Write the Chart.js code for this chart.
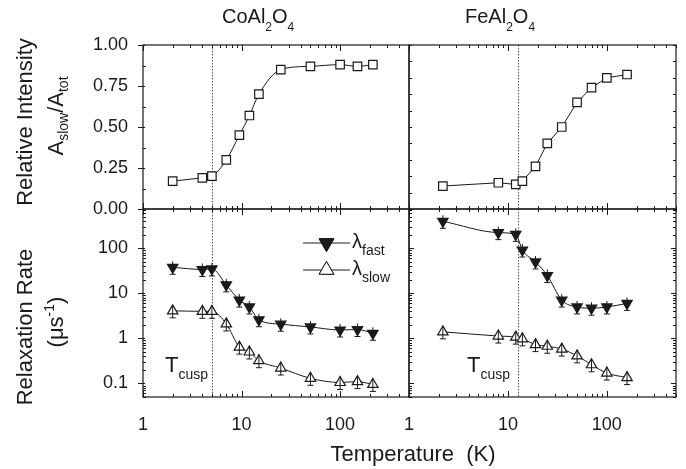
<!DOCTYPE html>
<html>
<head>
<meta charset="utf-8">
<script src="https://cdn.jsdelivr.net/npm/chart.js@4/dist/chart.umd.min.js"></script>
<style>
  body { margin: 0; background: #fff; }
  #wrap { position: relative; width: 686px; height: 469px; overflow: hidden; font-family: "Liberation Sans", Arial, sans-serif; color: #1a1a1a; }
  #wrap canvas { position: absolute; left: 0; top: 0; }
  .t { position: absolute; white-space: pre; line-height: 1; }
  .s { position: relative; }
  .rot { position: absolute; white-space: pre; line-height: 22px; font-size: 22px; transform: translate(-50%, -50%) rotate(-90deg); }
</style>
</head>
<body>
<div id="wrap">
  <canvas id="tl" width="686" height="469"></canvas>
  <canvas id="tr" width="686" height="469"></canvas>
  <canvas id="bl" width="686" height="469"></canvas>
  <canvas id="br" width="686" height="469"></canvas>

  <div class="t" style="left:222px;top:6px;font-size:20px">CoAl<span class="s" style="font-size:12px;top:8px">2</span>O<span class="s" style="font-size:12px;top:8px">4</span></div>
  <div class="t" style="left:465px;top:6px;font-size:20px">FeAl<span class="s" style="font-size:12px;top:8px">2</span>O<span class="s" style="font-size:12px;top:8px">4</span></div>

  <div class="rot" style="left:25px;top:122px">Relative Intensity</div>
  <div class="rot" style="left:57px;top:116px">A<span class="s" style="font-size:14px;top:5px">slow</span>/A<span class="s" style="font-size:14px;top:5px">tot</span></div>
  <div class="rot" style="left:25px;top:327px">Relaxation Rate</div>
  <div class="rot" style="left:57px;top:322px">(μs<span class="s" style="font-size:14px;top:-9px">-1</span>)</div>

  <div class="t" style="left:413px;top:443px;font-size:22px;transform:translateX(-50%)">Temperature  (K)</div>

  <div class="t" style="left:165px;top:354px;font-size:22px">T<span class="s" style="font-size:14px;top:7px">cusp</span></div>
  <div class="t" style="left:467px;top:354px;font-size:22px">T<span class="s" style="font-size:14px;top:7px">cusp</span></div>

  <div class="t" style="left:352px;top:231px;font-size:20px">λ<span class="s" style="font-size:14px;top:7px">fast</span></div>
  <div class="t" style="left:352px;top:258px;font-size:20px">λ<span class="s" style="font-size:14px;top:7px">slow</span></div>
</div>

<script>
// temperatures (K)
const coTemps = [2, 4, 5, 7, 9.5, 12, 15, 25, 50, 100, 150, 215];
const feTemps = [2.2, 8, 12, 14, 19, 25, 35, 50, 70, 100, 160];

// relative intensity A_slow/A_tot
const coRatio = [0.17, 0.19, 0.20, 0.30, 0.45, 0.57, 0.70, 0.85, 0.87, 0.88, 0.87, 0.88];
const feRatio = [0.14, 0.16, 0.15, 0.17, 0.26, 0.40, 0.50, 0.65, 0.74, 0.80, 0.82];

// relaxation rates (1/us)
const coFast = [38, 34, 35, 15.5, 7.1, 5.0, 2.6, 2.07, 1.8, 1.54, 1.58, 1.3];
const coSlow = [4.1, 4.0, 4.0, 2.1, 0.64, 0.5, 0.32, 0.22, 0.13, 0.105, 0.11, 0.095];
const feFast = [400, 224, 205, 92, 50, 25, 7.1, 5.0, 4.7, 5.0, 6.0];
const feSlow = [1.4, 1.13, 1.07, 0.98, 0.73, 0.67, 0.58, 0.41, 0.26, 0.17, 0.135];

const xTicks = [1, 10, 100];
const ratioTicks = [0, 0.25, 0.5, 0.75, 1];
const rateTicks = [0.1, 1, 10, 100];
const tCusp = { co: 5, fe: 12.5 };

const INK = '#1a1a1a';
const tickFont = { family: '"Liberation Sans", Arial, sans-serif', size: 18 };

const pts = (xs, ys) => xs.map((x, i) => ({ x: x, y: ys[i] }));

// frame, inward ticks, Tcusp line, error bars, legend symbols
const panelPlugin = {
    id: 'panel',
    beforeDatasetsDraw(chart, args, o) {
        if (!o.cusp) return;
        const { ctx, chartArea: a, scales: { x } } = chart;
        const px = Math.round(x.getPixelForValue(o.cusp)) + 0.5;
        ctx.save();
        ctx.strokeStyle = '#555';
        ctx.lineWidth = 1;
        ctx.setLineDash([1.5, 1.5]);
        ctx.beginPath();
        ctx.moveTo(px, a.top);
        ctx.lineTo(px, a.bottom);
        ctx.stroke();
        ctx.restore();
    },
    afterDatasetsDraw(chart, args, o) {
        const ctx = chart.ctx;
        ctx.save();
        ctx.strokeStyle = INK;
        ctx.lineWidth = 1;
        chart.data.datasets.forEach((ds, i) => {
            if (!ds.errBar) return;
            chart.getDatasetMeta(i).data.forEach(el => {
                ctx.beginPath();
                ctx.moveTo(el.x, el.y - 6);
                ctx.lineTo(el.x, el.y + 7);
                ctx.moveTo(el.x - 3, el.y + 7);
                ctx.lineTo(el.x + 3, el.y + 7);
                ctx.stroke();
            });
        });
        ctx.restore();
    },
    afterDraw(chart, args, o) {
        const { ctx, chartArea: a, scales: { x, y } } = chart;
        ctx.save();
        ctx.strokeStyle = INK;
        ctx.lineWidth = 1.2;
        ctx.strokeRect(a.left, a.top, a.width, a.height);
        ctx.lineWidth = 1;
        ctx.beginPath();
        // x ticks, log decades
        [1, 10, 100].forEach(d => {
            for (let k = 1; k <= 9; k++) {
                const v = k * d;
                if (v > x.max) break;
                const px = Math.round(x.getPixelForValue(v)) + 0.5;
                const len = k === 1 ? 6 : 3;
                ctx.moveTo(px, a.bottom); ctx.lineTo(px, a.bottom - len);
                ctx.moveTo(px, a.top); ctx.lineTo(px, a.top + len);
            }
        });
        // y ticks
        let yt = [];
        if (y.type === 'logarithmic') {
            [0.01, 0.1, 1, 10, 100].forEach(d => {
                for (let k = 1; k <= 9; k++) {
                    const v = k * d;
                    if (v >= y.min && v <= y.max) yt.push({ v: v, major: k === 1 });
                }
            });
        } else {
            for (let i = 0; i <= o.ySteps; i++) {
                const v = i / o.ySteps;
                yt.push({ v: v, major: o.ySteps === 8 ? i % 2 === 0 : false });
            }
        }
        yt.forEach(t => {
            const py = Math.round(y.getPixelForValue(t.v)) + 0.5;
            if (o.left) {
                if (t.major) { ctx.moveTo(a.left - 5, py); ctx.lineTo(a.left + 2, py); }
                else { ctx.moveTo(a.left, py); ctx.lineTo(a.left + 3, py); }
            } else {
                ctx.moveTo(a.left, py); ctx.lineTo(a.left + (t.major ? 5 : 3), py);
                ctx.moveTo(a.right, py); ctx.lineTo(a.right - (t.major ? 5 : 3), py);
            }
        });
        ctx.stroke();

        if (o.legend) {
            ctx.lineWidth = 1;
            o.legend.forEach(l => {
                ctx.beginPath();
                ctx.moveTo(l.x0, l.y); ctx.lineTo(l.x1, l.y);
                ctx.stroke();
                ctx.fillStyle = l.fill;
                ctx.strokeStyle = INK;
                Chart.helpers.drawPoint(ctx, { pointStyle: 'triangle', radius: 8.5, rotation: l.rot, borderWidth: 1.2 }, (l.x0 + l.x1) / 2, l.y);
                ctx.fill();
                ctx.stroke();
            });
        }
        ctx.restore();
    }
};

const lineSet = (data, style, extra) => Object.assign({
    data: data,
    borderColor: INK,
    borderWidth: 1,
    cubicInterpolationMode: 'monotone',
    pointStyle: style,
    pointRadius: 6,
    pointBorderWidth: 1.2,
    pointBorderColor: INK,
    pointBackgroundColor: '#fff'
}, extra || {});

const makePanel = (id, cfg) => {
    const xScale = {
        type: 'logarithmic',
        min: 1,
        max: 500,
        display: cfg.showX,
        grid: { display: false, drawTicks: false },
        border: { display: false },
        afterBuildTicks: axis => { axis.ticks = xTicks.map(v => ({ value: v })); },
        afterFit: axis => { axis.height = cfg.showX ? 45 : 0; },
        ticks: {
            font: tickFont,
            color: INK,
            padding: 17,
            maxRotation: 0,
            autoSkip: false,
            callback: v => String(v)
        }
    };
    const yScale = cfg.log ? {
        type: 'logarithmic',
        min: 0.05,
        max: 750,
        afterBuildTicks: axis => { axis.ticks = rateTicks.map(v => ({ value: v })); },
        ticks: { callback: v => String(v) }
    } : {
        type: 'linear',
        min: 0,
        max: 1,
        afterBuildTicks: axis => { axis.ticks = ratioTicks.map(v => ({ value: v })); },
        ticks: { callback: v => v.toFixed(2) }
    };
    yScale.display = cfg.showY;
    yScale.grid = { display: false, drawTicks: false };
    yScale.border = { display: false };
    yScale.afterFit = axis => { axis.width = cfg.showY ? 143 : 0; };
    Object.assign(yScale.ticks, { font: tickFont, color: INK, padding: 15, autoSkip: false });

    return new Chart(document.getElementById(id), {
        type: 'line',
        data: { datasets: cfg.datasets },
        options: {
            responsive: false,
            devicePixelRatio: 1,
            animation: false,
            events: [],
            layout: { padding: cfg.padding },
            scales: { x: xScale, y: yScale },
            plugins: {
                legend: { display: false },
                tooltip: { enabled: false },
                panel: cfg.panel
            }
        },
        plugins: [panelPlugin]
    });
};

makePanel('tl', {
    showX: false, showY: true, log: false,
    padding: { left: 0, top: 45, right: 277, bottom: 260 },
    panel: { cusp: tCusp.co, left: true, ySteps: 8 },
    datasets: [lineSet(pts(coTemps, coRatio), 'rect')]
});

makePanel('tr', {
    showX: false, showY: false, log: false,
    padding: { left: 409, top: 45, right: 10, bottom: 260 },
    panel: { cusp: tCusp.fe, left: false, ySteps: 10 },
    datasets: [lineSet(pts(feTemps, feRatio), 'rect', { tension: 0, cubicInterpolationMode: 'default' })]
});

makePanel('bl', {
    showX: true, showY: true, log: true,
    padding: { left: 0, top: 209, right: 277, bottom: 27 },
    panel: {
        cusp: tCusp.co, left: true,
        legend: [
            { x0: 303, x1: 350, y: 243, rot: 180, fill: INK },
            { x0: 303, x1: 350, y: 270, rot: 0, fill: '#fff' }
        ]
    },
    datasets: [
        lineSet(pts(coTemps, coFast), 'triangle', { pointRotation: 180, pointBackgroundColor: INK, errBar: true }),
        lineSet(pts(coTemps, coSlow), 'triangle', { errBar: true })
    ]
});

makePanel('br', {
    showX: true, showY: false, log: true,
    padding: { left: 409, top: 209, right: 10, bottom: 27 },
    panel: { cusp: tCusp.fe, left: false },
    datasets: [
        lineSet(pts(feTemps, feFast), 'triangle', { pointRotation: 180, pointBackgroundColor: INK, errBar: true }),
        lineSet(pts(feTemps, feSlow), 'triangle', { errBar: true })
    ]
});
</script>
</body>
</html>
